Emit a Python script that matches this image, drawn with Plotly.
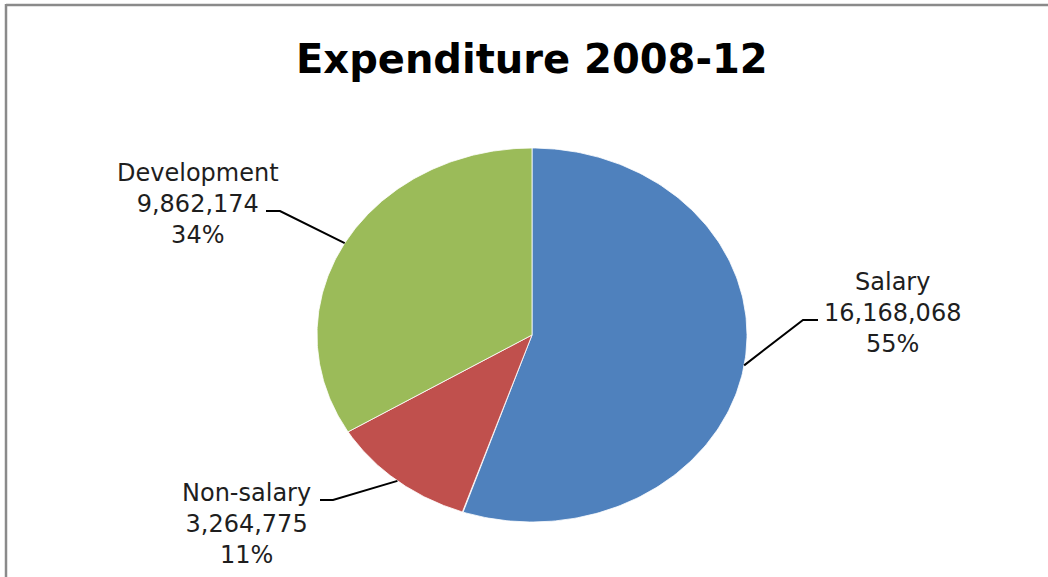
import numpy as np
import plotly.graph_objects as go

# ---- data ----
categories = ["Salary", "Non-salary", "Development"]
values = [16168068, 3264775, 9862174]
colors = ["#4F81BD", "#C0504D", "#9BBB59"]
title_text = "Expenditure 2008-12"

W, H = 1048, 577
CX, CY, RX, RY = 532, 335, 215, 187  # pie centre / radii in pixels


def dx(px):
    return (px - CX) / RX


def dy(py):
    return (CY - py) / RY


total = sum(values)
fracs = [v / total for v in values]

fig = go.Figure()

# slices (clockwise from 12 o'clock)
start = 0.0
mids = []
for cat, frac, col in zip(categories, fracs, colors):
    end = start + frac
    t = np.linspace(start, end, 200) * 2 * np.pi
    xs = np.concatenate([[0], np.sin(t), [0]])
    ys = np.concatenate([[0], np.cos(t), [0]])
    fig.add_trace(go.Scatter(x=xs, y=ys, mode="lines", fill="toself",
                             fillcolor=col, line=dict(color="white", width=0.8),
                             hoverinfo="skip", showlegend=False))
    m = (start + end) / 2 * 2 * np.pi
    mids.append((np.sin(m), np.cos(m)))
    start = end

# label layout (pixel positions of label centres and leader elbows)
label_pos = {
    "Salary": dict(x=892, y=313, elbow=(803, 320), tail=(818, 320)),
    "Non-salary": dict(x=246, y=524, elbow=(333, 500), tail=(320, 500)),
    "Development": dict(x=198, y=204, elbow=(280, 211), tail=(266, 211)),
}

for cat, v, frac, (mx, my) in zip(categories, values, fracs, mids):
    lp = label_pos[cat]
    # leader line: slice edge -> elbow -> tail
    fig.add_trace(go.Scatter(
        x=[mx, dx(lp["elbow"][0]), dx(lp["tail"][0])],
        y=[my, dy(lp["elbow"][1]), dy(lp["tail"][1])],
        mode="lines", line=dict(color="black", width=2),
        hoverinfo="skip", showlegend=False))
    fig.add_annotation(
        x=dx(lp["x"]), y=dy(lp["y"]), xref="x", yref="y",
        text=f"{cat}<br>{v:,}<br>{round(frac * 100)}%",
        showarrow=False, align="center", xanchor="center", yanchor="middle",
        font=dict(family="DejaVu Sans", size=24, color="#1e1e1e"))

# title
fig.add_annotation(
    x=dx(532), y=dy(59), xref="x", yref="y", text=f"<b>{title_text}</b>",
    showarrow=False, xanchor="center", yanchor="middle",
    font=dict(family="DejaVu Sans", size=40, color="black"))

# frame lines (cropped chart border)
fig.add_shape(type="line", xref="paper", yref="paper",
              x0=6 / W, x1=1, y0=1 - 5 / H, y1=1 - 5 / H,
              line=dict(color="#8a8a8a", width=2.5))
fig.add_shape(type="line", xref="paper", yref="paper",
              x0=6 / W, x1=6 / W, y0=0, y1=1 - 4 / H,
              line=dict(color="#8a8a8a", width=2.5))

fig.update_xaxes(visible=False, range=[dx(0), dx(W)], fixedrange=True)
fig.update_yaxes(visible=False, range=[dy(H), dy(0)], fixedrange=True)
fig.update_layout(width=W, height=H, margin=dict(l=0, r=0, t=0, b=0),
                  paper_bgcolor="white", plot_bgcolor="white",
                  showlegend=False, hovermode=False)

fig.write_html("out.html")
